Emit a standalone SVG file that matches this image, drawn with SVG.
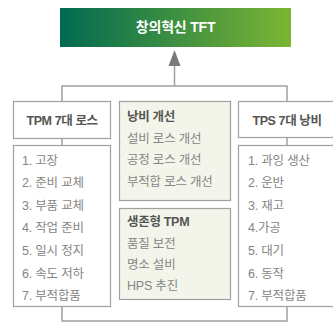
<svg xmlns="http://www.w3.org/2000/svg" width="333" height="325" viewBox="0 0 333 325">
<defs>
<linearGradient id="g" x1="0" y1="0" x2="1" y2="0">
<stop offset="0" stop-color="#006A50"/>
<stop offset="1" stop-color="#7CB532"/>
</linearGradient>
<style>
.box{fill:#fff;stroke:#a0a0a0;stroke-width:1.2}
.gbox{fill:#f3f5eb;stroke:#a0a0a0;stroke-width:1.2}
.ln{fill:none;stroke:#a0a0a0;stroke-width:1.5}
text{font-family:"Liberation Sans","Noto Sans CJK KR",sans-serif}
.hd{font-size:12.5px;font-weight:bold;fill:#555;letter-spacing:-0.4px}
.it{font-size:12.5px;fill:#858585;letter-spacing:-0.2px}
.mh{font-size:12.5px;font-weight:bold;fill:#555;letter-spacing:-0.3px}
.ti{font-size:14px;font-weight:bold;fill:#fff;letter-spacing:-0.2px}
</style>
</defs>
<g id="connectors">
<path class="ln" d="M62,101 V86 H287 V101"/>
<path class="ln" d="M174.5,86 V66"/>
<path d="M168.5,66 L174.5,50 L180.5,66 Z" fill="#7a7a7a"/>
<path class="ln" d="M62,139 V145"/>
<path class="ln" d="M287,138 V145"/>
<path class="ln" d="M62,307 V321 H287 V307"/>
</g>
<g id="title">
<rect x="60" y="8" width="231" height="39" fill="url(#g)"/>
<text class="ti" x="175.5" y="32" text-anchor="middle">창의혁신 TFT</text>
</g>
<g id="tpm-head">
<rect class="box" x="13.5" y="101.5" width="97" height="37"/>
<text class="hd" x="62" y="125" text-anchor="middle">TPM 7대 로스</text>
</g>
<g id="tpm-list">
<rect class="box" x="13.5" y="145.5" width="97" height="161"/>
<text class="it" x="22" y="164.5">1. 고장</text>
<text class="it" x="22" y="187">2. 준비 교체</text>
<text class="it" x="22" y="209.5">3. 부품 교체</text>
<text class="it" x="22" y="232">4. 작업 준비</text>
<text class="it" x="22" y="255">5. 일시 정지</text>
<text class="it" x="22" y="277.5">6. 속도 저하</text>
<text class="it" x="22" y="300">7. 부적합품</text>
</g>
<g id="waste-improve">
<rect class="gbox" x="119.5" y="101.5" width="111" height="99"/>
<text class="mh" x="127" y="121">낭비 개선</text>
<text class="it" x="127" y="143">설비 로스 개선</text>
<text class="it" x="127" y="164">공정 로스 개선</text>
<text class="it" x="127" y="185.5">부적합 로스 개선</text>
</g>
<g id="survival-tpm">
<rect class="gbox" x="119.5" y="208.5" width="111" height="91"/>
<text class="mh" x="127" y="226">생존형 TPM</text>
<text class="it" x="127" y="247.5">품질 보전</text>
<text class="it" x="127" y="268.5">명소 설비</text>
<text class="it" x="127" y="290">HPS 추진</text>
</g>
<g id="tps-head">
<rect class="box" x="238.5" y="101.5" width="98" height="36"/>
<text class="hd" x="287" y="125" text-anchor="middle">TPS 7대 낭비</text>
</g>
<g id="tps-list">
<rect class="box" x="238.5" y="145.5" width="98" height="161"/>
<text class="it" x="248" y="164.5">1. 과잉 생산</text>
<text class="it" x="248" y="187">2. 운반</text>
<text class="it" x="248" y="209.5">3. 재고</text>
<text class="it" x="248" y="232">4.가공</text>
<text class="it" x="248" y="255">5. 대기</text>
<text class="it" x="248" y="277.5">6. 동작</text>
<text class="it" x="248" y="300">7. 부적합품</text>
</g>
</svg>
